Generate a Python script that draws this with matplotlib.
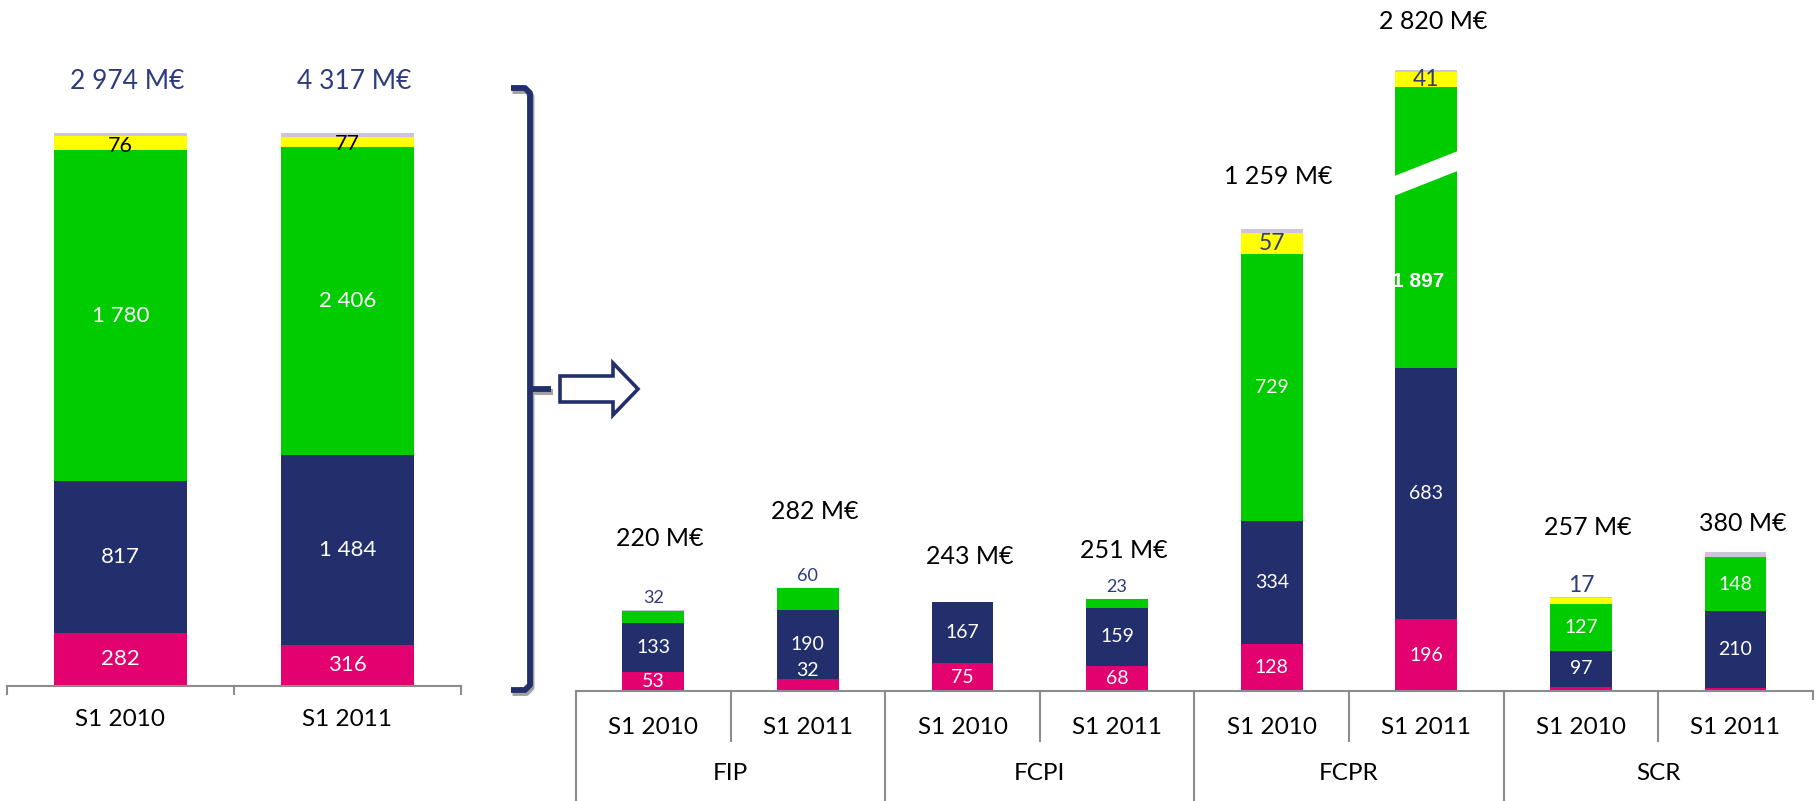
import matplotlib
matplotlib.use("Agg")
import matplotlib.pyplot as plt
import numpy as np
from matplotlib.transforms import blended_transform_factory
from matplotlib.patches import Polygon

plt.rcParams['font.family'] = ['Lato', 'DejaVu Sans']

# ---- data (M€) ----
left_cats = ["S1 2010", "S1 2011"]
left_totals = [2974, 4317]
left_pink = [282, 316]
left_navy = [817, 1484]
left_green = [1780, 2406]
left_yellow = [76, 77]
left_grey = [19, 34]

right_groups = ["FIP", "FCPI", "FCPR", "SCR"]
right_periods = ["S1 2010", "S1 2011"]
right_totals = [220, 282, 243, 251, 1259, 2820, 257, 380]
right_pink = [53, 32, 75, 68, 128, 196, 12, 7]
right_navy = [133, 190, 167, 159, 334, 683, 97, 210]
right_green = [32, 60, 1, 23, 729, 1897, 127, 148]
right_yellow = [0, 0, 0, 0, 57, 41, 17, 0]
right_grey = [2, 0, 0, 1, 11, 3, 4, 15]

# broken bar (FCPR S1 2011): part of green not drawn
broken_idx = 5
broken_cut = 1129

PINK = '#E3006F'
NAVY = '#222F6C'
GREEN = '#00CC00'
YELLOW = '#FFFF00'
GREY = '#CCC4DC'
TXT_NAVY = '#2E3B7E'
AXC = '#8C8C8C'

W, H = 1816, 801
fig = plt.figure(figsize=(W / 100, H / 100), dpi=100)

# ---------------- left panel (100 % stacked) ----------------
lb, lh = 685.7, 553.0   # baseline (px from top), height of 100 %
axL = fig.add_axes([7 / W, (H - lb) / H, (460.7 - 7) / W, lh / H])
axL.set_xlim(-0.5, 1.5)
axL.set_ylim(0, 1)
axL.axis('off')

xl = np.arange(len(left_cats))
segsL = [left_pink, left_navy, left_green, left_yellow, left_grey]
colsL = [PINK, NAVY, GREEN, YELLOW, GREY]
bottom = np.zeros(len(xl))
tot = np.array(left_totals, float)
for k, (seg, c) in enumerate(zip(segsL, colsL)):
    h = np.array(seg) / tot
    axL.bar(xl, h, 0.586, bottom=bottom, color=c, linewidth=0)
    for i in range(len(xl)):
        if k <= 2:
            axL.text(xl[i], bottom[i] + h[i] / 2, f"{seg[i]:,}".replace(",", " "),
                     ha='center', va='center', color='white', fontsize=16)
        elif k == 3:
            axL.text(xl[i], bottom[i] + h[i] / 2 - 0.004, str(seg[i]),
                     ha='center', va='center', color='black', fontsize=15.5)
    bottom += h

for i in range(len(xl)):
    axL.annotate(f"{left_totals[i]:,} M€".replace(",", " "), (xl[i], 1.0),
                 xytext=(5, 51 * 0.72), textcoords='offset points',
                 ha='center', va='center', color=TXT_NAVY, fontsize=19)

trL = blended_transform_factory(axL.transData, axL.transAxes)
axL.plot([-0.5, 1.5], [0, 0], color=AXC, lw=1.5, transform=trL, clip_on=False)
for xv in [-0.5, 0.5, 1.5]:
    axL.plot([xv, xv], [0, -8.5 / lh], color=AXC, lw=1.5, transform=trL, clip_on=False)
for i, c in enumerate(left_cats):
    axL.text(xl[i], (lb - 720) / lh, c, transform=trL, ha='center', va='center',
             fontsize=17.5, color='black')

# ---------------- right panel ----------------
rb = 691.0
scale = 0.367  # px per M€
axR = fig.add_axes([576 / W, (H - rb) / H, (1812.8 - 576) / W, rb / H])
axR.set_xlim(-0.5, 7.5)
axR.set_ylim(0, rb / scale)
axR.axis('off')

xr = np.arange(len(right_totals))
disp_green = list(right_green)
disp_green[broken_idx] = right_green[broken_idx] - broken_cut
segsR = [right_pink, right_navy, disp_green, right_yellow, right_grey]
colsR = [PINK, NAVY, GREEN, YELLOW, GREY]
bw = 0.4
bottoms = []
bottom = np.zeros(len(xr))
for seg, c in zip(segsR, colsR):
    bottoms.append(bottom.copy())
    axR.bar(xr, seg, bw, bottom=bottom, color=c, linewidth=0)
    bottom += np.array(seg, float)
tops = bottom

px = 1 / scale  # one pixel in data units
for i in range(len(xr)):
    # pink
    v = right_pink[i]
    if v >= 30:
        if v * scale >= 18:
            y = bottoms[0][i] + v / 2
        else:
            y = bottoms[0][i] + v + 9 * px
        axR.text(xr[i], y, str(v), ha='center', va='center', color='white', fontsize=14)
    # navy
    v = right_navy[i]
    axR.text(xr[i], bottoms[1][i] + v / 2, str(v), ha='center', va='center',
             color='white', fontsize=14)
    # green
    v = right_green[i]
    if i == broken_idx:
        y = bottoms[2][i] + (disp_green[i] - 0.38 * disp_green[i]) / 2
        axR.text(xr[i] - 0.05, y, f"{v:,}".replace(",", " "), ha='center', va='center',
                 color='white', fontsize=15, fontweight='bold', family='Liberation Sans')
    elif v >= 100:
        axR.text(xr[i], bottoms[2][i] + v / 2, str(v), ha='center', va='center',
                 color='white', fontsize=14)
    elif v >= 5:
        axR.text(xr[i], tops[i] + 12 * px, str(v), ha='center', va='center',
                 color=TXT_NAVY, fontsize=13)
    # yellow
    v = right_yellow[i]
    if v >= 30:
        axR.text(xr[i], bottoms[3][i] + v / 2, str(v), ha='center', va='center',
                 color=TXT_NAVY, fontsize=16.5)
    elif v > 0:
        axR.text(xr[i], tops[i] + 11 * px, str(v), ha='center', va='center',
                 color=TXT_NAVY, fontsize=16.5)

# break mark on the broken bar
g0 = bottoms[2][broken_idx]
xc = xr[broken_idx]
yb = g0 + 468 * 1  # lower-left corner of the stripe (data units)
stripe = Polygon([(xc - bw / 2 - 0.02, yb), (xc + bw / 2 + 0.02, yb + 73),
                  (xc + bw / 2 + 0.02, yb + 127), (xc - bw / 2 - 0.02, yb + 54)],
                 closed=True, facecolor='white', edgecolor='none', zorder=3)
axR.add_patch(stripe)

# totals
total_gap = [72, 76, 45, 48, 52, 49, 69, 28]
for i in range(len(xr)):
    axR.annotate(f"{right_totals[i]:,} M€".replace(",", " "), (xr[i], tops[i]),
                 xytext=(5, total_gap[i] * 0.72), textcoords='offset points',
                 ha='center', va='center', color='black', fontsize=18)

# two-level category axis
trR = blended_transform_factory(axR.transData, axR.transAxes)
axR.plot([-0.5, 7.5], [0, 0], color=AXC, lw=1.5, transform=trR, clip_on=False)
for k in range(9):
    xv = k - 0.5
    if k % 2 == 1:
        depth = 50
    elif k == 8:
        depth = 8
    else:
        depth = 110
    axR.plot([xv, xv], [0, -depth / rb], color=AXC, lw=1.5, transform=trR, clip_on=False)
for i in range(len(xr)):
    axR.text(xr[i], (rb - 727) / rb, right_periods[i % 2], transform=trR,
             ha='center', va='center', fontsize=17.5, color='black')
for g, name in enumerate(right_groups):
    axR.text(2 * g + 0.5, (rb - 774) / rb, name, transform=trR,
             ha='center', va='center', fontsize=17.5, color='black')

# ---------------- bracket and arrow (pixel overlay) ----------------
axO = fig.add_axes([0, 0, 1, 1])
axO.set_xlim(0, W)
axO.set_ylim(H, 0)
axO.axis('off')
axO.patch.set_alpha(0)

def bracket(dx, dy, color, lw):
    xs = [511, 525, 530, 530, 525, 511]
    ys = [88, 88, 93, 685, 690, 690]
    axO.plot([x + dx for x in xs], [y + dy for y in ys], color=color, lw=lw,
             solid_capstyle='butt', solid_joinstyle='round')
    axO.plot([530 + dx, 551 + dx], [389 + dy, 389 + dy], color=color, lw=lw,
             solid_capstyle='butt')

bracket(1.5, 3, '#A0A0A0', 4.2)
bracket(0, 0, NAVY, 4.2)

arrow = Polygon([(560, 376), (613, 376), (613, 363), (638, 389), (613, 415),
                 (613, 402), (560, 402)], closed=True, facecolor='white',
                edgecolor=NAVY, lw=2.6, joinstyle='miter')
axO.add_patch(arrow)

fig.savefig('out.png', dpi=100)
